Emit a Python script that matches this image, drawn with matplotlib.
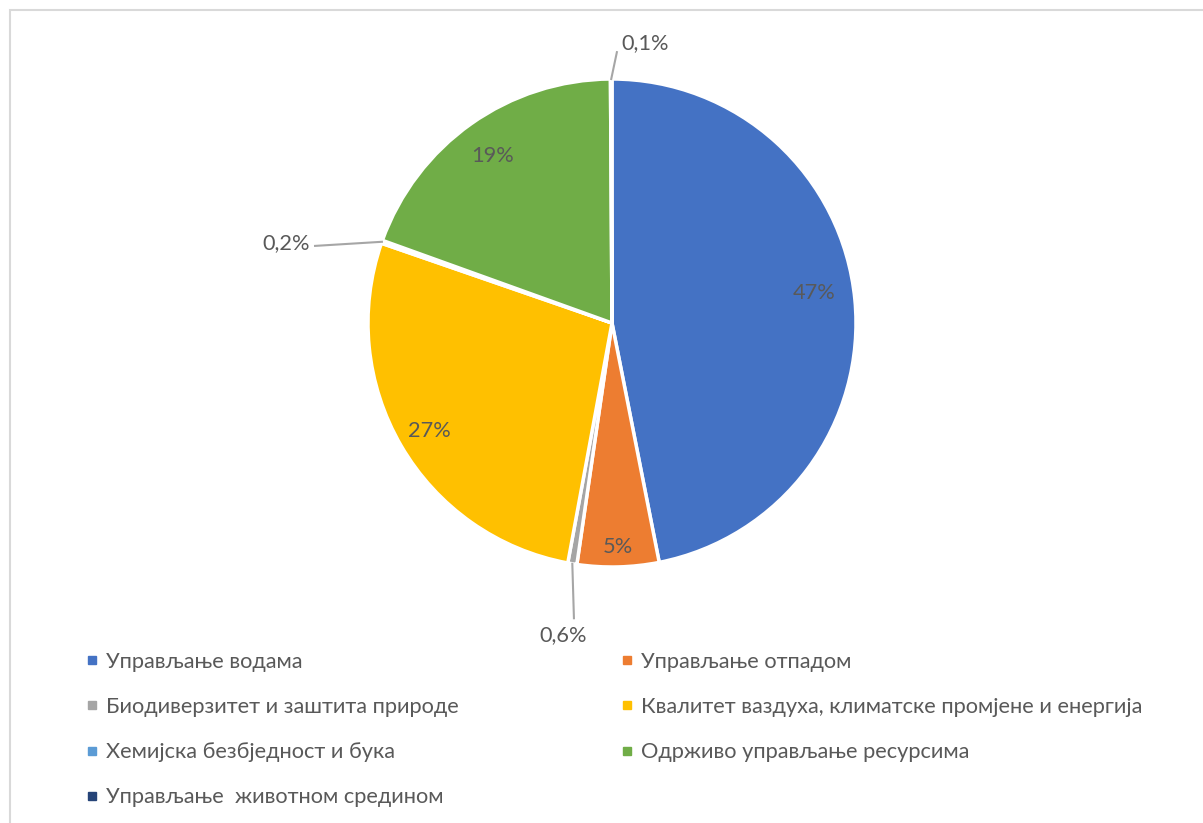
import matplotlib
matplotlib.use('Agg')
import matplotlib.pyplot as plt
from matplotlib.lines import Line2D
from matplotlib.patches import Rectangle
import numpy as np

categories = ['Управљање водама', 'Управљање отпадом', 'Биодиверзитет и заштита природе',
              'Квалитет ваздуха, климатске промјене и енергија', 'Хемијска безбједност и бука',
              'Одрживо управљање ресурсима', 'Управљање  животном средином']
values = [46.9, 5.4, 0.6, 27.4, 0.2, 19.4, 0.1]
colors = ['#4472C4', '#ED7D31', '#A5A5A5', '#FFC000', '#5B9BD5', '#70AD47', '#264478']

plt.rcParams['font.family'] = ['Lato', 'DejaVu Sans']
text_color = '#595959'
fs = 15.7


def pct_label(v):
    if v < 1:
        return f'{v:.1f}%'.replace('.', ',')
    return f'{v:.0f}%'


fig = plt.figure(figsize=(12.03, 8.23), dpi=100)
W, H = 1203, 823

# light frame (top/left visible)
fig.patches.append(Rectangle((10 / W, -0.1), 1.2, (823 - 10) / H + 0.1, transform=fig.transFigure,
                             fill=False, edgecolor='#D9D9D9', linewidth=1.5))

cx, cy, r = 612, 823 - 323, 244
ax = fig.add_axes([(cx - r) / W, (cy - r) / H, 2 * r / W, 2 * r / H])
wedges, _ = ax.pie(values, colors=colors, startangle=90, counterclock=False, radius=1,
                   wedgeprops=dict(edgecolor='white', linewidth=2.5))
ax.set_xlim(-1, 1)
ax.set_ylim(-1, 1)
ax.axis('off')

# (radius, angle shift in deg) for labels inside the big slices
inside = {0: (0.84, 3.5), 1: (0.91, 0), 3: (0.865, 0), 5: (0.85, 0)}
# leader line end, text position, alignment for the small slices
outside = {2: ((-0.156, -1.21), (-0.2, -1.24), 'center', 'top'),
           4: ((-1.217, 0.316), (-1.238, 0.335), 'right', 'center_baseline'),
           6: ((0.02, 1.11), (0.04, 1.155), 'left', 'center_baseline')}

for i, w in enumerate(wedges):
    mid = (w.theta1 + w.theta2) / 2
    ang = np.deg2rad(mid)
    x, y = np.cos(ang), np.sin(ang)
    lab = pct_label(values[i])
    if i in inside:
        d, shift = inside[i]
        a = np.deg2rad(mid + shift)
        ax.text(d * np.cos(a), d * np.sin(a), lab, ha='center', va='center_baseline',
                fontsize=fs, color=text_color)
    else:
        end, tpos, ha, va = outside[i]
        ax.plot([x, end[0]], [y, end[1]], color='#A6A6A6', linewidth=1.5, clip_on=False)
        ax.text(tpos[0], tpos[1], lab, ha=ha, va=va, fontsize=fs, color=text_color)

handles = [Line2D([], [], marker='s', linestyle='none', markersize=6, color=c) for c in colors]
left = [0, 2, 4, 6]
right = [1, 3, 5]
leg_kw = dict(loc='upper left', frameon=False, fontsize=fs, labelspacing=1.15,
              handlelength=0.7, handletextpad=0.3, borderpad=0, borderaxespad=0,
              labelcolor=text_color)
fig.legend([handles[i] for i in left], [categories[i] for i in left],
           bbox_to_anchor=(84 / W, 1 - 652 / H), **leg_kw)
fig.legend([handles[i] for i in right], [categories[i] for i in right],
           bbox_to_anchor=(619 / W, 1 - 652 / H), **leg_kw)

fig.savefig('out.png', dpi=100)
